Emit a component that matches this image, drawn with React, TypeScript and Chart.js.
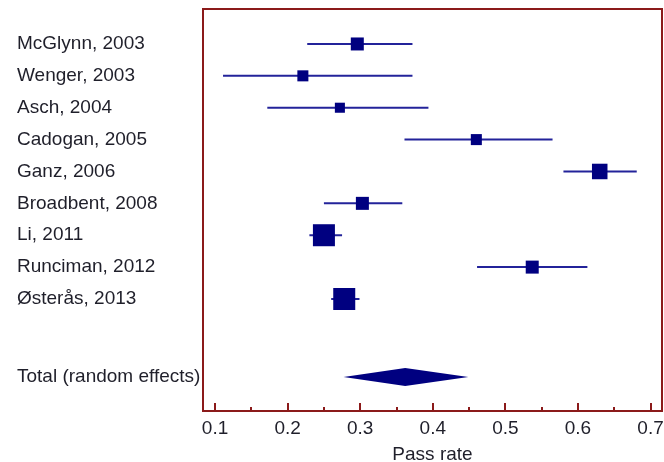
import React, { useEffect, useRef } from "react";
import { Chart, registerables } from "chart.js";

Chart.register(...registerables);

const studies = [
  "McGlynn, 2003",
  "Wenger, 2003",
  "Asch, 2004",
  "Cadogan, 2005",
  "Ganz, 2006",
  "Broadbent, 2008",
  "Li, 2011",
  "Runciman, 2012",
  "Østerås, 2013",
];
const estimates = [0.296, 0.221, 0.272, 0.46, 0.63, 0.303, 0.25, 0.537, 0.278];
const lowerCI = [0.227, 0.111, 0.172, 0.361, 0.58, 0.25, 0.23, 0.461, 0.26];
const upperCI = [0.372, 0.372, 0.394, 0.565, 0.681, 0.358, 0.275, 0.613, 0.299];
const weights = [8.2, 5.9, 4.9, 5.9, 11.7, 8.2, 23.5, 8.2, 23.5];

const totalLabel = "Total (random effects)";
const totalEstimate = 0.362;
const totalLower = 0.277;
const totalUpper = 0.449;
const totalRow = 10.45;

const xTicks = [0.1, 0.2, 0.3, 0.4, 0.5, 0.6, 0.7];
const xMinorTicks = [0.15, 0.25, 0.35, 0.45, 0.55, 0.65];
const xTitle = "Pass rate";

const NAVY = "#000080";
const LINE = "#23239a";
const FRAME = "#8b1a1a";
const TEXT = "#1f1f2a";
const FONT = "'Liberation Sans', Arial, sans-serif";

const forestPlugin = {
  id: "forest",
  beforeDatasetsDraw(chart: any) {
    const ctx = chart.ctx;
    const xs = chart.scales.x;
    const ys = chart.scales.y;
    ctx.save();
    ctx.strokeStyle = LINE;
    ctx.lineWidth = 2;
    for (let i = 0; i < studies.length; i++) {
      const y = ys.getPixelForValue(i);
      ctx.beginPath();
      ctx.moveTo(xs.getPixelForValue(lowerCI[i]), y);
      ctx.lineTo(xs.getPixelForValue(upperCI[i]), y);
      ctx.stroke();
    }
    const yc = ys.getPixelForValue(totalRow);
    const h = 9;
    ctx.fillStyle = NAVY;
    ctx.beginPath();
    ctx.moveTo(xs.getPixelForValue(totalLower), yc);
    ctx.lineTo(xs.getPixelForValue(totalEstimate), yc - h);
    ctx.lineTo(xs.getPixelForValue(totalUpper), yc);
    ctx.lineTo(xs.getPixelForValue(totalEstimate), yc + h);
    ctx.closePath();
    ctx.fill();
    ctx.restore();
  },
  afterDraw(chart: any) {
    const ctx = chart.ctx;
    const xs = chart.scales.x;
    const a = chart.chartArea;
    ctx.save();
    ctx.strokeStyle = FRAME;
    ctx.lineWidth = 2;
    ctx.strokeRect(a.left, a.top, a.right - a.left, a.bottom - a.top);
    ctx.beginPath();
    for (const t of xTicks) {
      const x = Math.round(xs.getPixelForValue(t));
      ctx.moveTo(x, a.bottom);
      ctx.lineTo(x, a.bottom - 8);
    }
    for (const t of xMinorTicks) {
      const x = Math.round(xs.getPixelForValue(t));
      ctx.moveTo(x, a.bottom);
      ctx.lineTo(x, a.bottom - 4);
    }
    ctx.stroke();
    ctx.restore();
  },
};

const zeroPad = (s: any) => {
  s.paddingLeft = 0;
  s.paddingRight = 0;
  s.paddingTop = 0;
  s.paddingBottom = 0;
};

export default function App() {
  const ref = useRef<HTMLCanvasElement>(null);
  useEffect(() => {
    const canvas = ref.current!;
    const side = (w: number) => 4.54 * Math.sqrt(w);
    const chart = new Chart(canvas, {
      type: "scatter",
      data: {
        datasets: [
          {
            data: estimates.map((v, i) => ({ x: v, y: i })),
            pointStyle: "rect",
            pointRadius: weights.map((w) => side(w) / Math.SQRT2),
            backgroundColor: NAVY,
            borderWidth: 0,
          },
        ],
      },
      options: {
        responsive: false,
        animation: false,
        devicePixelRatio: 1,
        layout: { autoPadding: false, padding: { left: 17, top: 9, right: 2, bottom: 0 } },
        plugins: {
          legend: { display: false },
          tooltip: { enabled: false },
        },
        scales: {
          x: {
            type: "linear",
            min: 0.0834,
            max: 0.7158,
            grid: { display: false, drawTicks: false },
            border: { display: false },
            afterBuildTicks: (s: any) => {
              s.ticks = xTicks.map((v) => ({ value: v }));
            },
            afterFit: (s: any) => {
              zeroPad(s);
              s.height = 51;
            },
            ticks: {
              padding: 6,
              color: TEXT,
              font: { family: FONT, size: 19 },
              maxRotation: 0,
              autoSkip: false,
              callback: (v: any) => Number(v).toFixed(1),
            },
            title: {
              display: true,
              text: xTitle,
              color: TEXT,
              font: { family: FONT, size: 19, lineHeight: 1 },
              padding: { top: 4, bottom: -2 },
            },
          },
          y: {
            type: "linear",
            reverse: true,
            min: -1.097,
            max: 11.514,
            grid: { display: false, drawTicks: false },
            border: { display: false },
            afterBuildTicks: (s: any) => {
              s.ticks = [...studies.map((_, i) => ({ value: i })), { value: totalRow }];
            },
            afterFit: (s: any) => {
              zeroPad(s);
              s.width = 186;
            },
            ticks: {
              padding: 0,
              crossAlign: "far",
              labelOffset: 0,
              color: TEXT,
              autoSkip: false,
              font: { family: FONT, size: 19 },
              callback: (_v: any, i: number) => (i < studies.length ? studies[i] : totalLabel),
            },
          },
        },
      },
      plugins: [forestPlugin],
    } as any);
    return () => chart.destroy();
  }, []);
  return (
    <div style={{ position: "fixed", left: 0, top: 0, width: 664, height: 462, background: "#fff" }}>
      <canvas ref={ref} width={664} height={462} style={{ display: "block", width: 664, height: 462 }} />
    </div>
  );
}
